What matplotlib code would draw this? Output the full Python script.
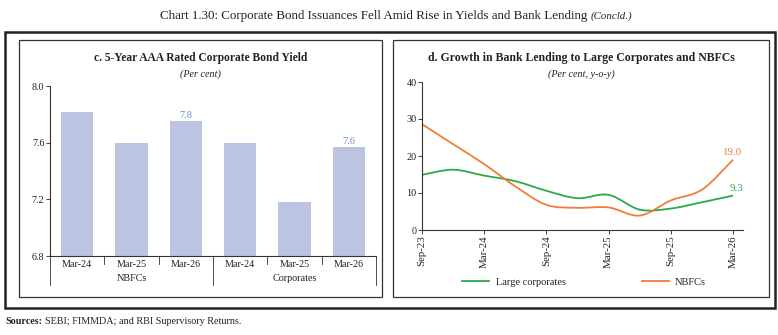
import numpy as np
import matplotlib
matplotlib.use("Agg")
import matplotlib.pyplot as plt
from matplotlib.patches import Rectangle, PathPatch
from matplotlib.path import Path

# ---------------- data ----------------
bar_labels = ["Mar-24", "Mar-25", "Mar-26", "Mar-24", "Mar-25", "Mar-26"]
bar_groups = ["NBFCs", "Corporates"]
bar_values = [7.82, 7.60, 7.75, 7.60, 7.18, 7.57]
bar_annot = {2: "7.8", 5: "7.6"}

quarters = ["Sep-23", "Dec-23", "Mar-24", "Jun-24", "Sep-24", "Dec-24",
            "Mar-25", "Jun-25", "Sep-25", "Dec-25", "Mar-26"]
large_corporates = [14.9, 16.3, 14.7, 13.2, 10.6, 8.6, 9.5, 5.5, 5.8, 7.5, 9.3]
nbfcs = [28.6, 23.2, 17.8, 11.8, 6.8, 6.0, 6.1, 3.9, 8.0, 10.9, 19.0]
line_ticks = ["Sep-23", "Mar-24", "Sep-24", "Mar-25", "Sep-25", "Mar-26"]

W, H = 778, 335
plt.rcParams['font.family'] = ['Liberation Serif', 'DejaVu Serif']
TXT = "#222222"
BAR = "#bcc4e2"
BLUE = "#6b8fcf"
GREEN = "#2ea84a"
ORANGE = "#f07d3a"

fig = plt.figure(figsize=(W / 100, H / 100), dpi=100)


def rect(x0, y0, x1, y1):
    return [x0 / W, 1 - y1 / H, (x1 - x0) / W, (y1 - y0) / H]


def fx(x):
    return x / W


def fy(y):
    return 1 - y / H


# frames
fig.patches.append(Rectangle((fx(5), fy(308)), fx(770), (308 - 32) / H,
                             transform=fig.transFigure, fill=False,
                             lw=1.8, ec="#222222"))
for (a, b, c, d) in [(19, 40, 382, 297), (393, 40, 769, 297)]:
    fig.patches.append(Rectangle((fx(a), fy(d)), fx(c - a), (d - b) / H,
                                 transform=fig.transFigure, fill=False,
                                 lw=0.9, ec="#333333"))

# main title
fig.text(fx(591), fy(16), "Chart 1.30: Corporate Bond Issuances Fell Amid Rise in Yields and Bank Lending ",
         ha="right", va="center", fontsize=9.4, color=TXT)
fig.text(fx(591), fy(16), "(Concld.)", ha="left", va="center", fontsize=7.8,
         style="italic", color=TXT)

# sources
fig.text(fx(5), fy(321), "Sources:", fontweight="bold", fontsize=7.3, color=TXT, va="center")
fig.text(fx(45), fy(321), "SEBI; FIMMDA; and RBI Supervisory Returns.", fontsize=7.3,
         color=TXT, va="center")

# ---------------- left panel ----------------
ax1 = fig.add_axes(rect(50, 86, 376, 256))
x = np.arange(len(bar_values))
ax1.bar(x, bar_values, width=0.6, color=BAR, bottom=0)
ax1.set_ylim(6.8, 8.0)
ax1.set_xlim(-0.5, 5.5)
ax1.set_yticks([6.8, 7.2, 7.6, 8.0])
ax1.set_yticklabels(["6.8", "7.2", "7.6", "8.0"])
for s in ["top", "right"]:
    ax1.spines[s].set_visible(False)
for s in ["left", "bottom"]:
    ax1.spines[s].set_color("#333333")
    ax1.spines[s].set_linewidth(0.8)
ax1.tick_params(axis="y", labelsize=7.3, length=3, width=0.6, colors=TXT, pad=1)
ax1.set_xticks([])
for i, lab in enumerate(bar_labels):
    ax1.text(i, -0.05, lab, transform=ax1.get_xaxis_transform(), ha="center",
             va="center", fontsize=7.3, color=TXT)
for g, lab in enumerate(bar_groups):
    ax1.text(1 + 3 * g, -0.13, lab, transform=ax1.get_xaxis_transform(), ha="center",
             va="center", fontsize=7.3, color=TXT)
for b in [0.5, 1.5, 3.5, 4.5]:
    ax1.plot([b, b], [0, -0.045], transform=ax1.get_xaxis_transform(),
             color="#333333", lw=0.6, clip_on=False)
for b in [-0.5, 2.5, 5.5]:
    ax1.plot([b, b], [0, -0.17], transform=ax1.get_xaxis_transform(),
             color="#333333", lw=0.6, clip_on=False)
for i, s in bar_annot.items():
    ax1.text(i, bar_values[i] + 0.01, s, ha="center", va="bottom", fontsize=7.5, color=BLUE)
fig.text((19 + 382) / 2 / W, fy(58), "c. 5-Year AAA Rated Corporate Bond Yield",
         ha="center", va="center", fontsize=8.3, fontweight="bold", color=TXT)
fig.text((19 + 382) / 2 / W, fy(74), "(Per cent)", ha="center", va="center",
         fontsize=7.3, style="italic", color=TXT)

# ---------------- right panel ----------------
ax2 = fig.add_axes(rect(422, 82, 743, 230))
xi = np.arange(len(quarters))


def smooth_path(xs, ys):
    xs = np.asarray(xs, float)
    ys = np.asarray(ys, float)
    n = len(xs)
    verts = [(xs[0], ys[0])]
    codes = [Path.MOVETO]
    for i in range(n - 1):
        p0 = np.array([xs[max(i - 1, 0)], ys[max(i - 1, 0)]])
        p1 = np.array([xs[i], ys[i]])
        p2 = np.array([xs[i + 1], ys[i + 1]])
        p3 = np.array([xs[min(i + 2, n - 1)], ys[min(i + 2, n - 1)]])
        c1 = p1 + (p2 - p0) / 6
        c2 = p2 - (p3 - p1) / 6
        verts += [tuple(c1), tuple(c2), tuple(p2)]
        codes += [Path.CURVE4] * 3
    return Path(verts, codes)


for ys, col, lab in [(large_corporates, GREEN, "Large corporates"), (nbfcs, ORANGE, "NBFCs")]:
    ax2.add_patch(PathPatch(smooth_path(xi, ys), fill=False, ec=col, lw=1.3))
    ax2.plot([], [], color=col, lw=1.3, label=lab)

ax2.set_xlim(0, 10.32)
ax2.set_ylim(0, 40)
ax2.set_yticks([0, 10, 20, 30, 40])
tick_pos = [quarters.index(q) for q in line_ticks]
ax2.set_xticks(tick_pos)
ax2.set_xticklabels(line_ticks, rotation=90, fontsize=7.8, color=TXT)
for s in ["top", "right"]:
    ax2.spines[s].set_visible(False)
for s in ["left", "bottom"]:
    ax2.spines[s].set_color("#333333")
    ax2.spines[s].set_linewidth(0.8)
ax2.tick_params(axis="y", labelsize=7.3, length=3, width=0.6, colors=TXT, pad=1)
ax2.tick_params(axis="x", length=3, width=0.6, colors=TXT, pad=1)
ax2.text(9.95, nbfcs[-1] + 0.7, "19.0", ha="center", va="bottom", fontsize=7.8, color=ORANGE)
ax2.text(10.1, large_corporates[-1] + 0.6, "9.3", ha="center", va="bottom", fontsize=7.8, color=GREEN)
fig.text((393 + 769) / 2 / W, fy(58), "d. Growth in Bank Lending to Large Corporates and NBFCs",
         ha="center", va="center", fontsize=8.5, fontweight="bold", color=TXT)
fig.text((393 + 769) / 2 / W, fy(74), "(Per cent, y-o-y)", ha="center", va="center",
         fontsize=7.3, style="italic", color=TXT)
leg = fig.legend(loc="center", bbox_to_anchor=((393 + 769) / 2 / W + 0.004, fy(282)), ncol=2,
                 frameon=False, fontsize=7.5, handlelength=2.6, columnspacing=7.3,
                 handletextpad=0.6)
for tx in leg.get_texts():
    tx.set_color(TXT)

fig.savefig("out.png", dpi=100)
